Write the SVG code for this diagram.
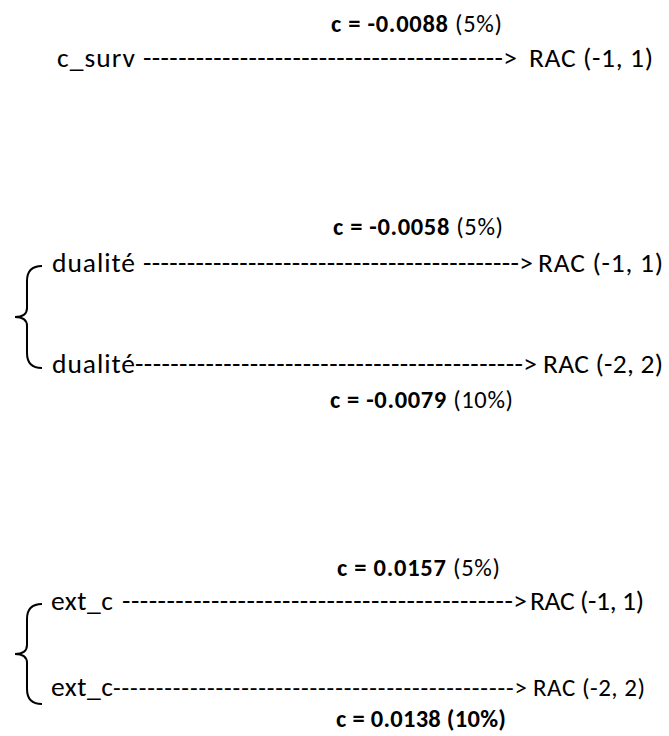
<svg xmlns="http://www.w3.org/2000/svg" width="669" height="736" viewBox="0 0 669 736">
<style>
text{font-family:Carlito,Lato,"Open Sans",sans-serif;fill:#000}
.m{font-size:27.5px}
.s{font-size:25px}
.lab{font-size:24.5px}
.b{font-weight:bold}
.brace{fill:none;stroke:#000;stroke-width:2}
</style>
<rect width="669" height="736" fill="#fff"/>
<g id="labels">
<text class="lab" x="331" y="32" textLength="171"><tspan class="b">c = -0.0088</tspan> (5%)</text>
<text class="lab" x="333" y="235" textLength="170"><tspan class="b">c = -0.0058</tspan> (5%)</text>
<text class="lab" x="330" y="408" textLength="183"><tspan class="b">c = -0.0079</tspan> (10%)</text>
<text class="lab" x="337" y="576" textLength="163"><tspan class="b">c = 0.0157</tspan> (5%)</text>
<text class="lab b" x="336" y="727" textLength="170">c = 0.0138 (10%)</text>
</g>
<g id="node-c_surv"><text class="m" x="57" y="67" textLength="78">c_surv</text></g>
<g id="node-dualite-1"><text class="m" x="52" y="272" textLength="83">dualité</text></g>
<g id="node-dualite-2"><text class="m" x="52" y="373" textLength="83">dualité</text></g>
<g id="node-ext_c-1"><text class="m" x="51" y="610" textLength="62">ext_c</text></g>
<g id="node-ext_c-2"><text class="m" x="51" y="696" textLength="62">ext_c</text></g>
<g id="node-rac-1"><text class="m" x="529" y="67" textLength="124">RAC (-1, 1)</text></g>
<g id="node-rac-2"><text class="m" x="538" y="272" textLength="125">RAC (-1, 1)</text></g>
<g id="node-rac-3"><text class="m" x="543" y="373" textLength="120">RAC (-2, 2)</text></g>
<g id="node-rac-4"><text class="m" x="530" y="610" textLength="114">RAC (-1, 1)</text></g>
<g id="node-rac-5"><text class="s" x="533" y="696" textLength="112">RAC (-2, 2)</text></g>
<g id="connectors">
<text class="m" x="143" y="67" textLength="374">-----------------------------------------&gt;</text>
<text class="m" x="143" y="272" textLength="390">-------------------------------------------&gt;</text>
<text class="m" x="135" y="373" textLength="402">--------------------------------------------&gt;</text>
<text class="m" x="122" y="610" textLength="405">--------------------------------------------&gt;</text>
<text class="s" x="113" y="696" textLength="414">-----------------------------------------------&gt;</text>
</g>
<g id="braces">
<path class="brace" d="M42,266 Q27,266 27,281 L27,308 Q27,317 15,317 Q27,317 27,326 L27,353 Q27,368 42,368"/>
<path class="brace" d="M42,604 Q27,604 27,619 L27,645 Q27,654 15,654 Q27,654 27,663 L27,689 Q27,704 42,704"/>
</g>
</svg>
